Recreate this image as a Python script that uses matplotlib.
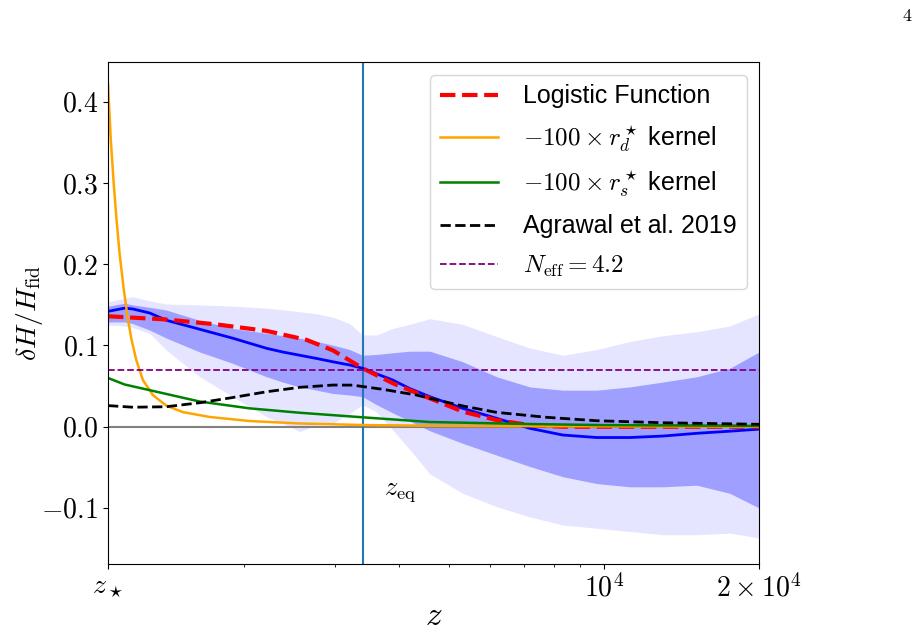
import numpy as np
import matplotlib
matplotlib.use("Agg")
import matplotlib.pyplot as plt
from matplotlib.ticker import NullFormatter

plt.rcParams['mathtext.fontset'] = 'cm'
plt.rcParams['font.family'] = ['Liberation Sans', 'DejaVu Sans']

z_star = 1090.0
z_eq = 3400.0
z_max = 2.0e4
n_eff_level = 0.07

# Posterior bands and mean (common z grid)
z_band = [1090, 1174, 1217, 1313, 1416, 1642, 1903, 2215, 2379, 2568, 2770, 2975,
          3211, 3400, 3623, 3891, 4198, 4592, 5321, 6193, 7181, 8319, 9686, 11226,
          13014, 15149, 17556, 20000]
light_upper = [0.154, 0.158, 0.160, 0.155, 0.151, 0.150, 0.1485, 0.146, 0.144, 0.1415,
               0.139, 0.135, 0.127, 0.113, 0.113, 0.121, 0.126, 0.133, 0.126, 0.111,
               0.097, 0.088, 0.095, 0.105, 0.112, 0.117, 0.124, 0.139]
dark_upper = [0.1485, 0.152, 0.150, 0.147, 0.1436, 0.131, 0.121, 0.115, 0.112, 0.109,
              0.105, 0.1005, 0.095, 0.088, 0.089, 0.091, 0.093, 0.093, 0.080, 0.0615,
              0.049, 0.045, 0.045, 0.049, 0.055, 0.0615, 0.072, 0.092]
dark_lower = [0.129, 0.129, 0.127, 0.119, 0.109, 0.092, 0.078, 0.0615, 0.055, 0.049,
              0.045, 0.041, 0.039, 0.037, 0.027, 0.017, 0.007, -0.005, -0.0205, -0.035,
              -0.049, -0.0615, -0.070, -0.074, -0.074, -0.072, -0.082, -0.100]
light_lower = [0.125, 0.124, 0.122, 0.115, 0.094, 0.0615, 0.037, 0.0123, 0.004, -0.006,
               0.002, 0.004, 0.0165, 0.027, 0.018, -0.004, -0.028, -0.058, -0.082, -0.0985,
               -0.111, -0.121, -0.125, -0.129, -0.133, -0.133, -0.131, -0.137]
mean_curve = [0.142, 0.146, 0.145, 0.140, 0.131, 0.120, 0.109, 0.0965, 0.092, 0.088,
              0.084, 0.080, 0.076, 0.072, 0.065, 0.0575, 0.047, 0.037, 0.0226, 0.0103,
              -0.002, -0.0102, -0.0133, -0.0133, -0.0115, -0.0081, -0.0055, -0.003]

# Logistic function
z_logistic = [1090, 1414, 1769, 2212, 2645, 2979, 3400, 3896, 4592, 5328, 6185, 7181,
              8322, 10000, 20000]
logistic = [0.136, 0.132, 0.126, 0.118, 0.107, 0.094, 0.072, 0.0534, 0.035, 0.0185,
            0.0082, 0.002, 0.0, 0.0, 0.0]

# r_d kernel
z_rd = [1090, 1103, 1118, 1133, 1148, 1169, 1191, 1211, 1237, 1274, 1332, 1414, 1523,
        1717, 2053, 2568, 3450, 5018, 10000, 20000]
rd_kernel = [0.423, 0.356, 0.300, 0.253, 0.213, 0.170, 0.133, 0.107, 0.082, 0.0575,
             0.039, 0.026, 0.0180, 0.0120, 0.007, 0.004, 0.002, 0.001, 0.0005, 0.0002]

# r_s kernel
z_rs = [1090, 1174, 1313, 1642, 2053, 2568, 3400, 4592, 7181, 10000, 20000]
rs_kernel = [0.060, 0.052, 0.045, 0.031, 0.0226, 0.0172, 0.0116, 0.0058, 0.0033, 0.002, 0.001]

# Agrawal et al. 2019
z_agr = [1090, 1219, 1414, 1642, 1905, 2212, 2568, 2979, 3254, 3725, 4326, 4592, 5328,
         6185, 7733, 9672, 13010, 20000]
agrawal = [0.026, 0.024, 0.0246, 0.0295, 0.036, 0.043, 0.0485, 0.0513, 0.0512, 0.046,
           0.039, 0.035, 0.0255, 0.0177, 0.0116, 0.0074, 0.0049, 0.003]

fig = plt.figure(figsize=(9.18, 6.35), dpi=100)
ax = fig.add_axes([108/918, 1 - 564/635, (759-108)/918, (564-62)/635])

ax.fill_between(z_band, light_lower, light_upper, color='blue', alpha=0.1, lw=0)
ax.fill_between(z_band, dark_lower, dark_upper, color='blue', alpha=0.3, lw=0)
ax.axhline(0.0, color='grey', lw=1.5)
ax.axvline(z_eq, color='#1f77b4', lw=1.5)

ax.plot(z_band, mean_curve, color='blue', lw=2)
ax.plot(z_logistic, logistic, color='red', ls='--', lw=3, label='Logistic Function')
ax.plot(z_rd, rd_kernel, color='orange', lw=1.8, label=r'$-100\times r_d^\star$ kernel')
ax.plot(z_rs, rs_kernel, color='green', lw=1.8, label=r'$-100\times r_s^\star$ kernel')
ax.plot(z_agr, agrawal, color='black', ls='--', lw=2, label='Agrawal et al. 2019')
ax.axhline(n_eff_level, color='purple', ls='--', lw=1.3, label=r'$N_{\rm eff}=4.2$')

ax.text(1.1 * z_eq, -0.08, r'$z_{\rm eq}$', fontsize=19, va='center', ha='left')

ax.set_xscale('log')
ax.set_xlim(z_star, z_max)
ax.set_ylim(-0.169, 0.449)
ax.set_xticks([z_star, 1e4, 2e4])
ax.set_xticklabels([r'$z_\star$', r'$10^4$', r'$2\times10^4$'])
ax.xaxis.set_minor_formatter(NullFormatter())
yt = [-0.1, 0.0, 0.1, 0.2, 0.3, 0.4]
ax.set_yticks(yt)
ax.set_yticklabels([r'$%.1f$' % v for v in yt])
ax.tick_params(labelsize=20)
ax.set_xlabel(r'$z$', fontsize=24)
ax.xaxis.set_label_coords(0.5, -0.074)
ax.set_ylabel(r'$\delta H/H_{\rm fid}$', fontsize=20)
ax.yaxis.set_label_coords(-0.097, 0.5)

ax.legend(loc='upper right', fontsize=18, handlelength=2.3, handletextpad=1.0,
          labelspacing=0.6)

fig.text(0.9935, 0.987, r'$4$', ha='right', va='top', fontsize=13)

fig.savefig('out.png', dpi=100)
